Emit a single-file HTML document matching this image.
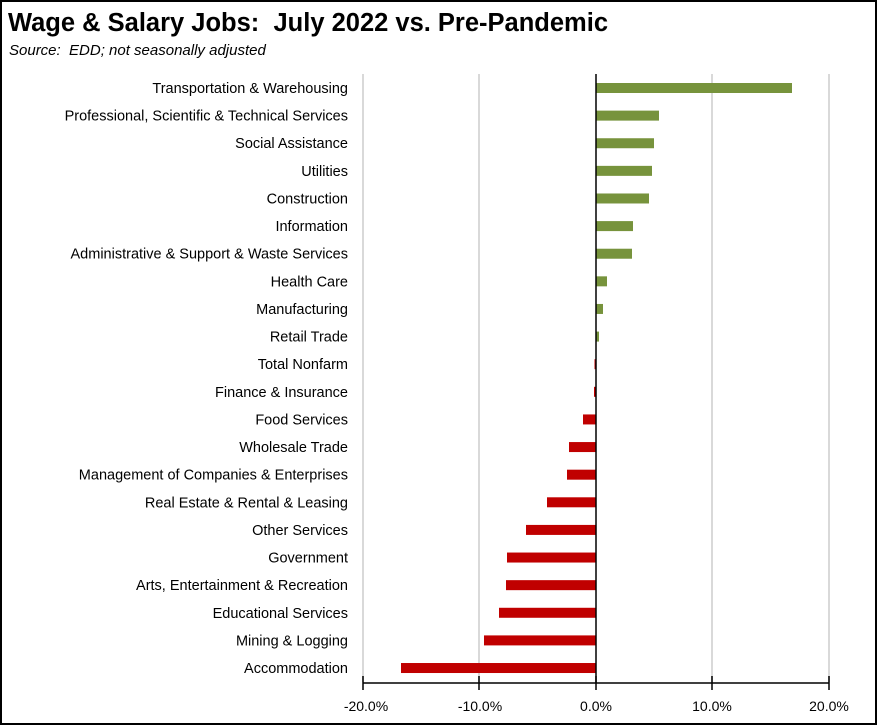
<!DOCTYPE html>
<html><head><meta charset="utf-8"><style>
body{margin:0;background:#fff}
svg{display:block;font-family:"Liberation Sans",sans-serif}
</style></head><body>
<svg width="877" height="725" xmlns="http://www.w3.org/2000/svg">
<rect x="1" y="1" width="875" height="723" fill="#fff" stroke="#000" stroke-width="2"/>
<text x="8" y="31" font-size="25.5" font-weight="bold" style="white-space:pre">Wage &amp; Salary Jobs:  July 2022 vs. Pre-Pandemic</text>
<text x="9" y="55" font-size="15" font-style="italic" style="white-space:pre">Source:  EDD; not seasonally adjusted</text>
<g stroke="#d9d9d9" stroke-width="2">
<line x1="479" y1="74" x2="479" y2="682"/><line x1="712" y1="74" x2="712" y2="682"/><line x1="829" y1="74" x2="829" y2="682"/><line x1="363" y1="74" x2="363" y2="682"/>
</g>
<g id="bars"></g>
<line x1="596" y1="74" x2="596" y2="683" stroke="#000" stroke-width="1.5"/>
<g stroke="#000" stroke-width="1.5">
<line x1="363" y1="683" x2="829" y2="683"/>
<line x1="363" y1="676" x2="363" y2="690"/><line x1="479" y1="676" x2="479" y2="690"/><line x1="596" y1="676" x2="596" y2="690"/><line x1="712" y1="676" x2="712" y2="690"/><line x1="829" y1="676" x2="829" y2="690"/>
</g>
<g font-size="14" text-anchor="middle">
<text x="366" y="711">-20.0%</text><text x="480" y="711">-10.0%</text><text x="596" y="711">0.0%</text><text x="712" y="711">10.0%</text><text x="829" y="711">20.0%</text>
</g>
<g font-size="14.5" text-anchor="end" id="labels"></g>
<script>
var d=[["Transportation & Warehousing",792],["Professional, Scientific & Technical Services",659],["Social Assistance",654],["Utilities",652],["Construction",649],["Information",633],["Administrative & Support & Waste Services",632],["Health Care",607],["Manufacturing",603],["Retail Trade",599],["Total Nonfarm",594.5],["Finance & Insurance",594],["Food Services",583],["Wholesale Trade",569],["Management of Companies & Enterprises",567],["Real Estate & Rental & Leasing",547],["Other Services",526],["Government",507],["Arts, Entertainment & Recreation",506],["Educational Services",499],["Mining & Logging",484],["Accommodation",401]];
var ns="http://www.w3.org/2000/svg",b=document.getElementById("bars"),l=document.getElementById("labels");
d.forEach(function(r,i){var y=88+i*27.62;var x=r[1];var rc=document.createElementNS(ns,"rect");
var x0=Math.min(596,x),w=Math.max(Math.abs(x-596),1);rc.setAttribute("x",x0);rc.setAttribute("y",y-5);rc.setAttribute("width",w);rc.setAttribute("height",10);
rc.setAttribute("fill",i<10?"#77933C":"#C00000");b.appendChild(rc);
var t=document.createElementNS(ns,"text");t.setAttribute("x",348);t.setAttribute("y",y+5);t.textContent=r[0];l.appendChild(t);});
</script>
</svg>
</body></html>
